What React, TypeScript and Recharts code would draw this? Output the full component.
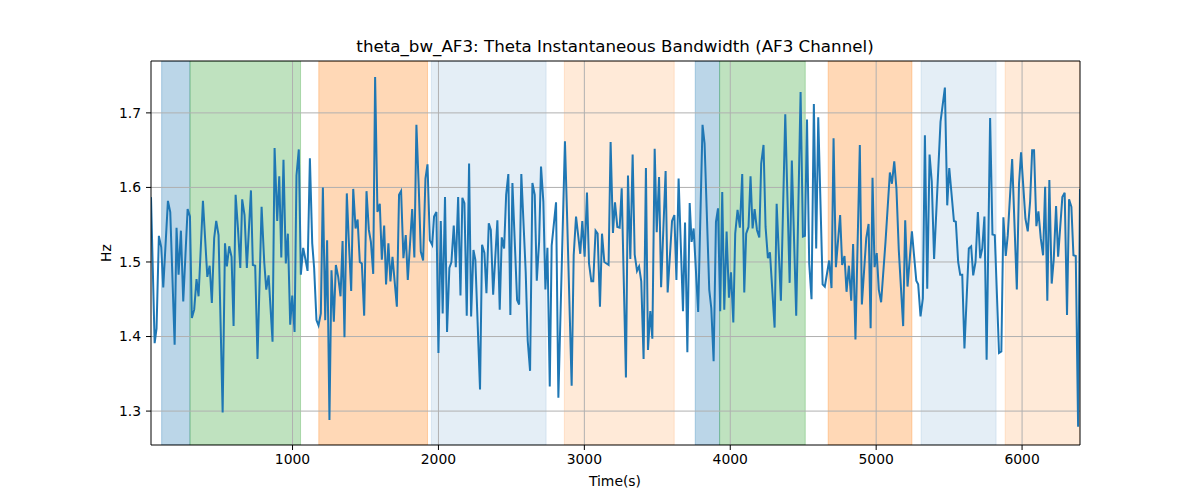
import React from 'react';
import {
  ComposedChart,
  Line,
  XAxis,
  YAxis,
  ReferenceArea,
  ReferenceLine,
} from 'recharts';

// sample times (s) and bandwidth (Hz) at each turning point
const timeSec = [
  30, 55, 68, 84, 100, 114, 146, 162, 192, 205, 219, 235, 251, 281, 297, 310, 326, 342, 356, 386,
  416, 432, 447, 463, 477, 493, 521, 537, 550, 566, 582, 596, 610, 626, 642, 655, 671, 687, 715, 728,
  744, 760, 788, 806, 820, 836, 863, 877, 895, 909, 923, 938, 954, 968, 984, 998, 1014, 1027, 1043, 1057,
  1073, 1087, 1103, 1119, 1135, 1148, 1164, 1178, 1194, 1208, 1224, 1237, 1253, 1267, 1283, 1297, 1313, 1329, 1343, 1356,
  1372, 1386, 1402, 1416, 1432, 1446, 1461, 1475, 1491, 1507, 1523, 1537, 1553, 1566, 1582, 1598, 1612, 1628, 1641, 1657,
  1671, 1685, 1715, 1730, 1744, 1760, 1776, 1790, 1820, 1835, 1849, 1865, 1879, 1895, 1911, 1925, 1941, 1957, 1970, 1986,
  2000, 2016, 2029, 2045, 2059, 2075, 2089, 2105, 2119, 2135, 2151, 2164, 2178, 2194, 2210, 2224, 2240, 2253, 2285, 2299,
  2315, 2329, 2345, 2359, 2375, 2404, 2420, 2434, 2450, 2464, 2479, 2493, 2507, 2539, 2553, 2568, 2598, 2612, 2628, 2644,
  2660, 2674, 2690, 2703, 2719, 2733, 2747, 2763, 2776, 2806, 2822, 2867, 2881, 2913, 2927, 2943, 2972, 2986, 3002, 3018,
  3032, 3048, 3061, 3077, 3091, 3107, 3121, 3137, 3166, 3180, 3196, 3210, 3226, 3242, 3256, 3285, 3299, 3315, 3331, 3345,
  3361, 3375, 3390, 3406, 3422, 3436, 3452, 3466, 3482, 3496, 3512, 3526, 3557, 3571, 3601, 3617, 3631, 3646, 3676, 3690,
  3706, 3722, 3735, 3749, 3780, 3810, 3824, 3856, 3870, 3886, 3902, 3916, 3931, 3945, 3959, 3975, 3991, 4005, 4021, 4034,
  4050, 4066, 4082, 4096, 4109, 4125, 4139, 4153, 4167, 4183, 4199, 4212, 4228, 4242, 4258, 4272, 4304, 4318, 4347, 4377,
  4407, 4422, 4452, 4482, 4498, 4512, 4526, 4541, 4557, 4573, 4589, 4603, 4633, 4648, 4678, 4694, 4708, 4724, 4753, 4767,
  4783, 4797, 4813, 4829, 4842, 4858, 4888, 4902, 4932, 4948, 4962, 4975, 4989, 5004, 5018, 5034, 5064, 5094, 5108, 5124,
  5139, 5155, 5185, 5199, 5215, 5245, 5275, 5288, 5304, 5320, 5334, 5350, 5366, 5381, 5397, 5441, 5471, 5487, 5501, 5533,
  5546, 5562, 5576, 5590, 5605, 5635, 5651, 5665, 5681, 5697, 5713, 5727, 5742, 5757, 5781, 5797, 5813, 5842, 5858, 5872,
  5888, 5902, 5932, 5964, 5979, 5993, 6023, 6039, 6055, 6069, 6082, 6098, 6112, 6128, 6144, 6158, 6173, 6187, 6203, 6217,
  6233, 6247, 6276, 6292, 6308, 6322, 6338, 6352, 6368, 6384, 6397,
];

const thetaBw = [
  1.587, 1.391, 1.411, 1.535, 1.520, 1.466, 1.582, 1.567, 1.389, 1.546, 1.483, 1.542, 1.447, 1.571, 1.561, 1.425, 1.436, 1.477, 1.454, 1.582,
  1.480, 1.495, 1.445, 1.532, 1.555, 1.536, 1.298, 1.525, 1.494, 1.521, 1.507, 1.414, 1.590, 1.545, 1.492, 1.584, 1.563, 1.492, 1.596, 1.496,
  1.495, 1.370, 1.574, 1.500, 1.463, 1.482, 1.393, 1.653, 1.555, 1.615, 1.506, 1.637, 1.498, 1.538, 1.416, 1.455, 1.406, 1.616, 1.651, 1.483,
  1.519, 1.505, 1.488, 1.639, 1.525, 1.492, 1.422, 1.415, 1.431, 1.600, 1.422, 1.529, 1.288, 1.489, 1.420, 1.496, 1.480, 1.454, 1.528, 1.399,
  1.592, 1.527, 1.461, 1.598, 1.545, 1.557, 1.500, 1.498, 1.428, 1.595, 1.543, 1.527, 1.484, 1.748, 1.567, 1.578, 1.503, 1.549, 1.470, 1.525,
  1.474, 1.507, 1.440, 1.590, 1.595, 1.505, 1.536, 1.476, 1.571, 1.506, 1.684, 1.601, 1.514, 1.502, 1.612, 1.631, 1.529, 1.523, 1.561, 1.567,
  1.378, 1.555, 1.431, 1.587, 1.406, 1.492, 1.500, 1.549, 1.493, 1.587, 1.455, 1.586, 1.579, 1.428, 1.632, 1.427, 1.516, 1.503, 1.329, 1.523,
  1.512, 1.458, 1.552, 1.543, 1.456, 1.556, 1.436, 1.533, 1.518, 1.590, 1.618, 1.429, 1.606, 1.449, 1.443, 1.618, 1.487, 1.394, 1.354, 1.606,
  1.590, 1.475, 1.527, 1.628, 1.581, 1.463, 1.519, 1.333, 1.522, 1.580, 1.318, 1.662, 1.567, 1.334, 1.509, 1.561, 1.511, 1.555, 1.507, 1.593,
  1.498, 1.474, 1.474, 1.542, 1.538, 1.440, 1.538, 1.500, 1.496, 1.661, 1.539, 1.580, 1.547, 1.546, 1.599, 1.345, 1.616, 1.504, 1.644, 1.510,
  1.488, 1.494, 1.474, 1.370, 1.626, 1.382, 1.434, 1.397, 1.652, 1.540, 1.614, 1.466, 1.622, 1.459, 1.555, 1.563, 1.476, 1.612, 1.434, 1.553,
  1.379, 1.579, 1.527, 1.545, 1.433, 1.684, 1.659, 1.463, 1.438, 1.367, 1.554, 1.572, 1.434, 1.594, 1.436, 1.541, 1.452, 1.486, 1.419, 1.538,
  1.570, 1.546, 1.618, 1.459, 1.538, 1.547, 1.615, 1.545, 1.571, 1.543, 1.533, 1.632, 1.657, 1.547, 1.505, 1.513, 1.412, 1.578, 1.448, 1.698,
  1.472, 1.636, 1.428, 1.728, 1.534, 1.535, 1.691, 1.498, 1.450, 1.712, 1.518, 1.694, 1.470, 1.467, 1.502, 1.465, 1.666, 1.493, 1.563, 1.496,
  1.508, 1.460, 1.495, 1.448, 1.524, 1.396, 1.657, 1.443, 1.532, 1.551, 1.411, 1.613, 1.493, 1.512, 1.463, 1.446, 1.527, 1.620, 1.605, 1.635,
  1.598, 1.516, 1.414, 1.556, 1.467, 1.541, 1.475, 1.470, 1.427, 1.451, 1.670, 1.464, 1.644, 1.608, 1.504, 1.688, 1.734, 1.576, 1.626, 1.555,
  1.554, 1.500, 1.483, 1.483, 1.384, 1.518, 1.521, 1.482, 1.500, 1.567, 1.505, 1.518, 1.561, 1.369, 1.693, 1.537, 1.536, 1.378, 1.380, 1.560,
  1.508, 1.536, 1.638, 1.463, 1.605, 1.647, 1.558, 1.541, 1.581, 1.650, 1.650, 1.548, 1.568, 1.532, 1.509, 1.601, 1.448, 1.610, 1.471, 1.503,
  1.575, 1.507, 1.587, 1.593, 1.429, 1.584, 1.574, 1.509, 1.508, 1.279, 1.598,
];

// shaded segments
const spanStart = [103, 297, 1180, 1952, 2863, 3760, 3927, 4671, 5308, 5884];
const spanEnd = [297, 1055, 1925, 2738, 3616, 3927, 4514, 5245, 5822, 6397];
const spanState = ['a', 'b', 'c', 'd', 'e', 'a', 'b', 'c', 'd', 'e'];

const xTicks = [1000, 2000, 3000, 4000, 5000, 6000];
const yTicks = [1.3, 1.4, 1.5, 1.6, 1.7];
const xRange = [30, 6397];
const yRange = [1.2545, 1.7696];

const stateStyle: Record<string, { color: string; opacity: number }> = {
  a: { color: '#1f77b4', opacity: 0.3 },
  b: { color: '#2ca02c', opacity: 0.3 },
  c: { color: '#ff7f0e', opacity: 0.3 },
  d: { color: '#1f77b4', opacity: 0.12 },
  e: { color: '#ff7f0e', opacity: 0.16 },
};

const rows = timeSec.map((t, i) => ({ t, bw: thetaBw[i] }));

const FONT = '"DejaVu Sans", sans-serif';
const tickStyle = { fill: '#000', fontSize: 13.9, fontFamily: FONT };

export default function App() {
  return (
    <div style={{ position: 'absolute', left: 0, top: 0, width: 1200, height: 500, background: '#fff' }}>
      <ComposedChart
        width={1200}
        height={500}
        data={rows}
        margin={{ top: 61, right: 120, bottom: 25, left: 91 }}
      >
        <XAxis
          dataKey="t"
          type="number"
          domain={xRange}
          allowDataOverflow
          ticks={xTicks}
          height={30}
          tick={tickStyle}
          tickSize={5}
          tickMargin={4}
          tickLine={{ stroke: '#000' }}
          axisLine={{ stroke: '#000', strokeWidth: 1 }}
        />
        <YAxis
          type="number"
          domain={yRange}
          allowDataOverflow
          ticks={yTicks}
          width={60}
          tick={tickStyle}
          tickFormatter={(v: number) => v.toFixed(1)}
          tickSize={5}
          tickMargin={5}
          tickLine={{ stroke: '#000' }}
          axisLine={{ stroke: '#000', strokeWidth: 1 }}
        />
        {spanStart.map((s, i) => (
          <ReferenceArea
            key={i}
            x1={s}
            x2={spanEnd[i]}
            fill={stateStyle[spanState[i]].color}
            fillOpacity={stateStyle[spanState[i]].opacity}
            stroke={stateStyle[spanState[i]].color}
            strokeOpacity={stateStyle[spanState[i]].opacity}
            ifOverflow="hidden"
          />
        ))}
        {xTicks.map((v) => (
          <ReferenceLine key={'gx' + v} x={v} stroke="#b0b0b0" strokeWidth={1} zIndex={150} />
        ))}
        {yTicks.map((v) => (
          <ReferenceLine key={'gy' + v} y={v} stroke="#b0b0b0" strokeWidth={1} zIndex={150} />
        ))}
        <Line
          type="linear"
          dataKey="bw"
          stroke="#1f77b4"
          strokeWidth={2}
          dot={false}
          isAnimationActive={false}
        />
        <ReferenceLine x={xRange[1]} stroke="#000" strokeWidth={1} ifOverflow="visible" zIndex={600} />
        <ReferenceLine y={yRange[1]} stroke="#000" strokeWidth={1} ifOverflow="visible" zIndex={600} />
      </ComposedChart>
      <svg
        width={1200}
        height={500}
        style={{ position: 'absolute', left: 0, top: 0, pointerEvents: 'none' }}
        fontFamily={FONT}
      >
        <text x={615} y={52} textAnchor="middle" fontSize={16.7} fill="#000">
          theta_bw_AF3: Theta Instantaneous Bandwidth (AF3 Channel)
        </text>
        <text x={615} y={486} textAnchor="middle" fontSize={13.9} fill="#000">
          Time(s)
        </text>
        <text
          x={111}
          y={253}
          textAnchor="middle"
          fontSize={13.9}
          fill="#000"
          transform="rotate(-90 111 253)"
        >
          Hz
        </text>
      </svg>
    </div>
  );
}
